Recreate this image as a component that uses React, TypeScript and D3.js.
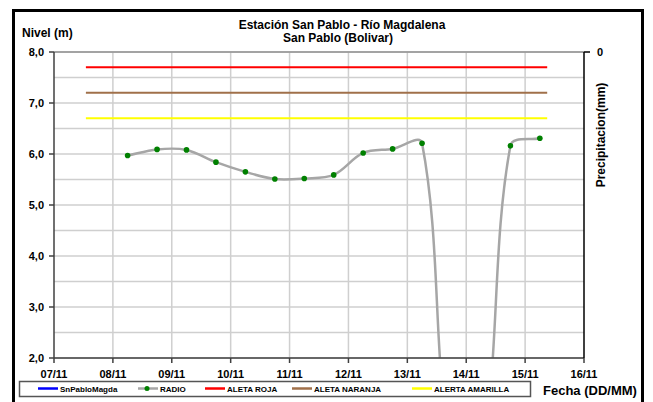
import React from 'react';
import * as d3 from 'd3';

const W = 653;
const H = 402;
const margin = { top: 52, right: 69, bottom: 44, left: 54 };

// dias del eje X (DD/MM)
const dayLabels = ['07/11', '08/11', '09/11', '10/11', '11/11', '12/11', '13/11', '14/11', '15/11', '16/11'];
const yTicks = [2, 3, 4, 5, 6, 7, 8];

// serie RADIO (cada 12 h)
const radioTimes = [
  '2011-11-08T06:00', '2011-11-08T18:00', '2011-11-09T06:00', '2011-11-09T18:00',
  '2011-11-10T06:00', '2011-11-10T18:00', '2011-11-11T06:00', '2011-11-11T18:00',
  '2011-11-12T06:00', '2011-11-12T18:00', '2011-11-13T06:00', '2011-11-13T18:00',
  '2011-11-14T06:00', '2011-11-14T18:00', '2011-11-15T06:00',
];
const radioValues = [5.97, 6.09, 6.08, 5.84, 5.65, 5.51, 5.52, 5.59, 6.02, 6.10, 6.21, 0, 0, 6.16, 6.31];

// niveles de alerta
const alertNames = ['ALETA ROJA', 'ALETA NARANJA', 'ALERTA AMARILLA'];
const alertValues = [7.7, 7.2, 6.7];
const alertColors = ['#ff0000', '#a0704a', '#ffff00'];
const alertStart = '2011-11-07T13:00';
const alertEnd = '2011-11-15T09:00';

const legendItems = [
  { name: 'SnPabloMagda', color: '#0000ff', x: 38, dot: false },
  { name: 'RADIO', color: '#a6a6a6', x: 138, dot: true },
  { name: alertNames[0], color: alertColors[0], x: 205, dot: false },
  { name: alertNames[1], color: alertColors[1], x: 292, dot: false },
  { name: alertNames[2], color: alertColors[2], x: 412, dot: false },
];

const parse = d3.timeParse('%Y-%m-%dT%H:%M');
const dayDates = dayLabels.map(d => parse(`2011-11-${d.slice(0, 2)}T00:00`) as Date);

// curva suavizada tipo Excel: tangente P(i+1)-P(i-1), control a 1/3 de cada tramo
const smoothPath = (pts: [number, number][]) => {
  const p = d3.path();
  const tan = pts.map((pt, i) => {
    const a = pts[Math.max(i - 1, 0)];
    const b = pts[Math.min(i + 1, pts.length - 1)];
    const dx = b[0] - a[0];
    const dy = b[1] - a[1];
    const len = Math.hypot(dx, dy) || 1;
    return [dx / len, dy / len];
  });
  p.moveTo(pts[0][0], pts[0][1]);
  for (let i = 0; i < pts.length - 1; i++) {
    const a = pts[i];
    const b = pts[i + 1];
    const seg = Math.hypot(b[0] - a[0], b[1] - a[1]) / 3;
    p.bezierCurveTo(
      a[0] + tan[i][0] * seg, a[1] + tan[i][1] * seg,
      b[0] - tan[i + 1][0] * seg, b[1] - tan[i + 1][1] * seg,
      b[0], b[1]
    );
  }
  return p.toString();
};

const App = () => {
  const x = d3.scaleTime()
    .domain([dayDates[0], dayDates[dayDates.length - 1]])
    .range([margin.left, W - margin.right]);
  const y = d3.scaleLinear().domain([2, 8]).range([H - margin.bottom, margin.top]);

  const points = radioTimes.map((t, i) => ({ date: parse(t) as Date, value: radioValues[i] }));
  const pathD = smoothPath(points.map(d => [x(d.date), y(d.value)] as [number, number]));

  const halfTicks = d3.range(2, 8.01, 0.5);
  const font = 'Liberation Sans, Arial, sans-serif';
  const x0 = margin.left;
  const x1 = W - margin.right;
  const y0 = H - margin.bottom;
  const y1 = margin.top;

  return (
    <div style={{ position: 'fixed', left: 0, top: 0 }}>
      <svg width={W} height={H} style={{ display: 'block', fontFamily: font, fontWeight: 'bold' }}>
        <rect x={0} y={0} width={W} height={H} fill="#fff" />
        <rect x={13.5} y={10.5} width={629} height={400} fill="none" stroke="#000" strokeWidth={3} />
        <defs>
          <clipPath id="plot">
            <rect x={x0} y={y1} width={x1 - x0} height={y0 - y1} />
          </clipPath>
        </defs>

        {/* grid */}
        {halfTicks.map(v => (
          <line key={'h' + v} x1={x0} x2={x1} y1={y(v)} y2={y(v)} stroke="#cfcfcf" strokeWidth={1.5} />
        ))}
        {dayDates.slice(1, -1).map((d, i) => (
          <line key={'v' + i} x1={x(d)} x2={x(d)} y1={y1} y2={y0} stroke="#cfcfcf" strokeWidth={1.5} />
        ))}
        <line x1={x0} x2={x1} y1={y1} y2={y1} stroke="#909090" strokeWidth={1.5} />

        {/* alertas */}
        {alertValues.map((v, i) => (
          <line key={'a' + i} x1={x(parse(alertStart) as Date)} x2={x(parse(alertEnd) as Date)}
            y1={y(v)} y2={y(v)} stroke={alertColors[i]} strokeWidth={2} />
        ))}

        {/* RADIO */}
        <g clipPath="url(#plot)">
          <path d={pathD} fill="none" stroke="#a6a6a6" strokeWidth={2.5} />
          {points.map((p, i) => (
            <circle key={'p' + i} cx={x(p.date)} cy={y(p.value)} r={2.8} fill="#008000" />
          ))}
        </g>

        {/* ejes */}
        <line x1={x0} x2={x0} y1={y1} y2={y0} stroke="#404040" strokeWidth={1.5} />
        <line x1={x0} x2={x1} y1={y0} y2={y0} stroke="#404040" strokeWidth={1.5} />
        <line x1={x1} x2={x1} y1={y1} y2={y0} stroke="#000" strokeWidth={1.5} />
        <line x1={x1} x2={x1 + 6} y1={y1} y2={y1} stroke="#000" strokeWidth={1.5} />
        {yTicks.map(v => (
          <g key={'y' + v}>
            <line x1={x0 - 5} x2={x0} y1={y(v)} y2={y(v)} stroke="#404040" strokeWidth={1.5} />
            <text x={44} y={y(v)} dy="0.35em" textAnchor="end" fontSize={11}>{d3.format('.1f')(v).replace('.', ',')}</text>
          </g>
        ))}
        {dayDates.map((d, i) => (
          <g key={'x' + i}>
            <line x1={x(d)} x2={x(d)} y1={y0} y2={y0 + 5} stroke="#404040" strokeWidth={1.5} />
            <text x={x(d)} y={378} textAnchor="middle" fontSize={11}>{dayLabels[i]}</text>
          </g>
        ))}

        {/* textos */}
        <text x={342} y={28.5} textAnchor="middle" fontSize={12}>Estación San Pablo - Río Magdalena</text>
        <text x={338} y={42} textAnchor="middle" fontSize={12}>San Pablo (Bolivar)</text>
        <text x={22} y={37} fontSize={12}>Nivel (m)</text>
        <text x={597} y={y1} dy="0.35em" fontSize={11}>0</text>
        <text transform={`translate(605,135) rotate(-90)`} textAnchor="middle" fontSize={12}>Precipitacion(mm)</text>
        <text x={543} y={395} fontSize={13}>Fecha (DD/MM)</text>

        {/* leyenda */}
        <rect x={19.5} y={381.5} width={511} height={15} fill="#fff" stroke="#555" strokeWidth={1.5} />
        {legendItems.map(item => (
          <g key={item.name}>
            <line x1={item.x} x2={item.x + 20} y1={388.5} y2={388.5} stroke={item.color} strokeWidth={2.5} />
            {item.dot && <circle cx={item.x + 9} cy={388.5} r={2.5} fill="#008000" />}
            <text x={item.x + 22} y={391.5} fontSize={8}>{item.name}</text>
          </g>
        ))}
      </svg>
    </div>
  );
};

export default App;
